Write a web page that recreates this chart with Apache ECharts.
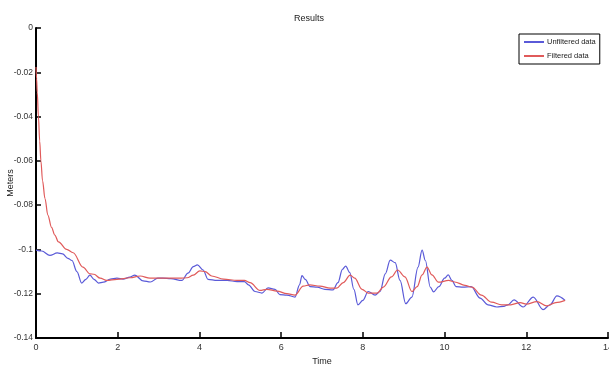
<!DOCTYPE html>
<html>
<head>
<meta charset="utf-8">
<script src="https://cdn.jsdelivr.net/npm/echarts@6/dist/echarts.min.js"></script>
<style>
    html, body { margin: 0; padding: 0; background: #fff; }
    #chart { width: 609px; height: 369px; }
</style>
</head>
<body>
<div id="chart"></div>
<script>
// 原始数据（未滤波）
var unfilteredTime = [0, 0.14, 0.34, 0.52, 0.65, 0.78, 0.88, 1.0, 1.12, 1.22, 1.32, 1.42, 1.53, 1.65, 1.82, 1.98,
    2.13, 2.3, 2.42, 2.62, 2.8, 2.98, 3.1, 3.3, 3.57, 3.72, 3.85, 3.95, 4.09, 4.21, 4.43, 4.68, 4.92, 5.1, 5.2,
    5.36, 5.53, 5.68, 5.85, 5.97, 6.14, 6.34, 6.45, 6.51, 6.59, 6.71, 6.88, 7.07, 7.27, 7.39, 7.5, 7.58, 7.68,
    7.78, 7.88, 8.0, 8.13, 8.3, 8.42, 8.55, 8.67, 8.79, 8.91, 9.05, 9.2, 9.35, 9.45, 9.53, 9.65, 9.73, 9.86,
    10.0, 10.09, 10.18, 10.28, 10.45, 10.65, 10.87, 11.06, 11.28, 11.45, 11.55, 11.7, 11.92, 12.17, 12.41,
    12.58, 12.75, 12.95];
var unfilteredValues = [-0.1003, -0.1007, -0.1027, -0.1016, -0.1020, -0.1040, -0.1050, -0.1100, -0.1152, -0.1135,
    -0.1116, -0.1135, -0.1152, -0.1148, -0.1134, -0.1130, -0.1134, -0.1125, -0.1116, -0.1142, -0.1147, -0.1130,
    -0.1130, -0.1132, -0.1140, -0.1107, -0.1078, -0.1070, -0.1093, -0.1135, -0.1140, -0.1140, -0.1145, -0.1145,
    -0.1160, -0.1190, -0.1197, -0.1174, -0.1180, -0.1204, -0.1206, -0.1215, -0.1160, -0.1118, -0.1135, -0.1168,
    -0.1170, -0.1180, -0.1183, -0.1150, -0.1090, -0.1075, -0.1105, -0.1180, -0.1250, -0.1230, -0.1190, -0.1206,
    -0.1190, -0.1110, -0.1048, -0.1060, -0.1140, -0.1245, -0.1215, -0.1080, -0.1003, -0.1050, -0.1170, -0.1192,
    -0.1168, -0.1130, -0.1115, -0.1140, -0.1168, -0.1170, -0.1168, -0.1220, -0.1250, -0.1260, -0.1257, -0.1250,
    -0.1228, -0.1260, -0.1215, -0.1272, -0.1250, -0.1210, -0.1230];
// 滤波后数据
var filteredTime = [0, 0.015, 0.03, 0.06, 0.09, 0.12, 0.16, 0.22, 0.29, 0.38, 0.46, 0.55, 0.75, 0.91, 1.15, 1.32,
    1.42, 1.57, 1.73, 1.98, 2.3, 2.55, 2.79, 3.1, 3.52, 3.7, 3.85, 4.01, 4.14, 4.3, 4.59, 4.92, 5.1, 5.24, 5.48,
    5.65, 5.9, 6.14, 6.34, 6.54, 6.7, 6.95, 7.2, 7.36, 7.52, 7.69, 7.8, 7.98, 8.13, 8.35, 8.5, 8.7, 8.85, 9.03,
    9.2, 9.33, 9.45, 9.57, 9.69, 9.85, 10.1, 10.25, 10.5, 10.67, 10.9, 11.15, 11.4, 11.62, 11.85, 12.0, 12.26,
    12.5, 12.72, 12.95];
var filteredValues = [-0.0176, -0.023, -0.029, -0.040, -0.051, -0.060, -0.069, -0.077, -0.0845, -0.090, -0.0935,
    -0.0966, -0.1000, -0.1015, -0.1080, -0.1110, -0.1112, -0.1130, -0.1140, -0.1135, -0.1128, -0.1120, -0.1130,
    -0.1130, -0.1130, -0.1128, -0.1116, -0.1097, -0.1100, -0.1120, -0.1134, -0.1140, -0.1140, -0.1150, -0.1185,
    -0.1180, -0.1188, -0.1200, -0.1206, -0.1166, -0.1160, -0.1166, -0.1175, -0.1175, -0.1150, -0.1116, -0.1130,
    -0.1180, -0.1197, -0.1197, -0.1170, -0.1124, -0.1093, -0.1124, -0.1190, -0.1168, -0.1115, -0.1080, -0.1115,
    -0.1148, -0.1140, -0.1147, -0.1162, -0.1170, -0.1206, -0.1238, -0.1250, -0.1250, -0.1240, -0.1247, -0.1236,
    -0.1255, -0.1240, -0.1230];

function pairs(xs, ys) {
    return xs.map(function (x, i) { return [x, ys[i]]; });
}

var font = '"Liberation Sans Narrow", "Liberation Sans", Arial, sans-serif';
var chart = echarts.init(document.getElementById('chart'));
var option = {
    animation: false,
    backgroundColor: '#fff',
    title: {
        text: 'Results',
        left: 304,
        top: 9,
        textAlign: 'center',
        textStyle: { fontFamily: font, fontSize: 9, fontWeight: 'normal', color: '#222' }
    },
    legend: {
        orient: 'vertical',
        left: 519,
        top: 34,
        padding: [4, 4, 4, 5],
        itemGap: 6,
        itemWidth: 20,
        itemHeight: 2,
        icon: 'rect',
        borderColor: '#000',
        borderWidth: 1,
        textStyle: { fontFamily: font, fontSize: 7.5, color: '#222', padding: [0, 0, 0, -2] },
        data: ['Unfiltered data', 'Filtered data']
    },
    grid: {
        left: 36,
        right: 1,
        top: 28,
        bottom: 31,
        containLabel: false,
        outerBoundsMode: 'none'
    },
    xAxis: {
        type: 'value',
        min: 0,
        max: 14,
        interval: 2,
        name: 'Time',
        nameLocation: 'middle',
        nameGap: 19,
        nameMoveOverlap: false,
        nameTextStyle: { fontFamily: font, fontSize: 9, color: '#222' },
        axisLine: { onZero: false, lineStyle: { color: '#000', width: 2 } },
        axisTick: { inside: true, length: 6, lineStyle: { color: '#000', width: 1.5 } },
        axisLabel: { fontFamily: font, fontSize: 9, color: '#333', margin: 5 },
        splitLine: { show: false }
    },
    yAxis: {
        type: 'value',
        min: -0.14,
        max: 0,
        interval: 0.02,
        name: 'Meters',
        nameLocation: 'middle',
        nameGap: 21,
        nameMoveOverlap: false,
        nameTextStyle: { fontFamily: font, fontSize: 9, color: '#222' },
        axisLine: { onZero: false, lineStyle: { color: '#000', width: 2 } },
        axisTick: { inside: true, length: 5, lineStyle: { color: '#000', width: 1.5 } },
        axisLabel: { fontFamily: font, fontSize: 8.5, color: '#333', margin: 3 },
        splitLine: { show: false }
    },
    series: [
        {
            name: 'Unfiltered data',
            type: 'line',
            symbol: 'none',
            smooth: 0.35,
            smoothMonotone: 'x',
            itemStyle: { color: '#5a5ad8' },
            lineStyle: { color: '#5a5ad8', width: 1.2 },
            data: pairs(unfilteredTime, unfilteredValues)
        },
        {
            name: 'Filtered data',
            type: 'line',
            symbol: 'none',
            smooth: 0.35,
            smoothMonotone: 'x',
            itemStyle: { color: '#e05a5a' },
            lineStyle: { color: '#e05a5a', width: 1.2 },
            data: pairs(filteredTime, filteredValues)
        }
    ]
};
chart.setOption(option);
</script>
</body>
</html>
